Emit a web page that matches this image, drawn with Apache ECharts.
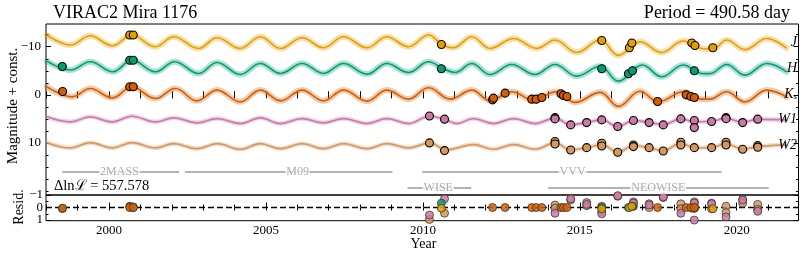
<!DOCTYPE html>
<html><head><meta charset="utf-8">
<script src="https://cdn.jsdelivr.net/npm/echarts@6/dist/echarts.min.js"></script>
<style>html,body{margin:0;padding:0;background:#fff}#c{width:806px;height:259px}</style>
</head><body><div id="c"></div>
<script>
// ---------------- data ----------------
const bandNames = ['J', 'H', 'Ks', 'W1', 'W2'];

const jModel = [[1998.02,-12.44],[1998.77,-10.35],[1999.40,-12.29],[2000.10,-10.21],[2000.73,-12.44],[2001.47,-10.0],[2002.06,-12.08],[2002.85,-9.65],[2003.44,-11.88],[2004.18,-9.65],[2004.82,-12.08],[2005.46,-9.65],[2006.15,-11.88],[2006.83,-9.79],[2007.47,-12.08],[2008.22,-9.79],[2008.85,-12.08],[2009.54,-10.0],[2010.18,-12.44],[2010.61,-10.48],[2010.97,-9.79],[2011.56,-12.08],[2012.14,-9.65],[2012.89,-11.73],[2013.63,-9.65],[2014.21,-11.4],[2014.90,-8.81],[2015.65,-11.4],[2016.23,-8.2],[2016.92,-11.04],[2017.61,-8.81],[2018.30,-11.19],[2018.88,-9.65],[2019.24,-9.52],[2019.68,-11.4],[2020.26,-9.4],[2020.96,-11.73],[2021.59,-9.7]];
const hModel = [[1998.02,-7.0],[1998.77,-5.15],[1999.40,-6.88],[2000.12,-4.79],[2000.73,-7.23],[2001.47,-4.79],[2002.09,-6.88],[2002.85,-4.44],[2003.44,-6.73],[2004.18,-4.23],[2004.82,-6.52],[2005.46,-4.44],[2006.15,-6.52],[2006.83,-4.44],[2007.47,-6.52],[2008.22,-4.31],[2008.85,-6.52],[2009.54,-4.65],[2010.18,-6.88],[2010.64,-5.48],[2011.03,-4.65],[2011.56,-6.52],[2012.14,-4.23],[2012.83,-6.31],[2013.57,-4.23],[2014.21,-6.31],[2014.90,-3.9],[2015.65,-5.94],[2016.23,-2.85],[2017.00,-6.19],[2017.61,-3.75],[2018.30,-6.19],[2018.88,-4.44],[2019.14,-4.4],[2019.68,-6.31],[2020.26,-4.1],[2020.96,-6.52],[2021.59,-4.79]];
const ksModel = [[1998.02,-1.67],[1998.82,0.42],[1999.40,-1.31],[2000.10,0.63],[2000.73,-1.67],[2001.47,0.77],[2002.11,-1.31],[2002.80,1.25],[2003.44,-0.98],[2004.18,1.46],[2004.82,-0.98],[2005.46,1.25],[2006.15,-0.98],[2006.83,1.25],[2007.47,-0.98],[2008.22,1.31],[2008.85,-0.98],[2009.54,0.9],[2010.18,-1.46],[2010.87,0.9],[2011.56,-0.98],[2012.14,1.2],[2012.83,-0.63],[2013.52,1.05],[2014.25,-0.63],[2014.85,1.56],[2015.65,-0.52],[2016.23,2.4],[2016.92,-0.73],[2017.50,1.46],[2018.30,-0.63],[2018.88,0.9],[2019.14,0.9],[2019.68,-0.63],[2020.26,1.46],[2020.96,-0.98],[2021.59,0.42]];
const w1Model = [[1998.02,4.58],[1998.77,5.63],[1999.40,4.58],[2000.10,5.63],[2000.73,4.44],[2001.47,5.63],[2002.06,4.79],[2002.80,5.83],[2003.44,4.94],[2004.18,5.98],[2004.82,4.79],[2005.46,5.98],[2006.15,4.94],[2006.83,5.83],[2007.47,4.94],[2008.22,5.98],[2008.85,4.94],[2009.54,5.98],[2010.21,4.44],[2010.69,5.06],[2011.08,5.98],[2011.61,4.94],[2012.25,5.98],[2012.89,4.94],[2013.58,5.98],[2014.21,4.85],[2014.71,6.2],[2015.22,5.75],[2015.70,5.2],[2016.21,6.6],[2016.71,5.35],[2017.21,5.75],[2017.66,6.2],[2018.22,5.0],[2018.65,5.6],[2019.20,5.5],[2019.66,4.9],[2020.19,5.7],[2020.67,5.1],[2021.59,5.2]];
const w2Model = [[1998.02,9.94],[1998.77,11.04],[1999.40,9.94],[2000.10,11.04],[2000.73,9.94],[2001.47,11.04],[2002.06,10.15],[2002.80,11.19],[2003.44,10.15],[2004.18,11.31],[2004.82,10.15],[2005.46,11.19],[2006.15,10.15],[2006.83,11.19],[2007.47,10.15],[2008.22,11.19],[2008.85,10.15],[2009.54,11.04],[2010.21,10.0],[2010.75,11.4],[2011.61,10.35],[2012.25,11.31],[2012.89,10.35],[2013.58,11.31],[2014.21,10.0],[2014.71,11.45],[2015.22,11.0],[2015.70,10.35],[2016.21,11.9],[2016.71,10.6],[2017.21,11.0],[2017.66,11.6],[2018.22,10.1],[2018.65,11.0],[2019.20,10.95],[2019.66,10.15],[2020.19,11.3],[2020.67,10.75],[2021.59,10.4]];

const jObs = [[2000.66,-12.44],[2000.77,-12.44],[2010.59,-10.48],[2015.70,-11.31],[2016.58,-9.79],[2016.66,-10.77],[2018.57,-10.77],[2018.67,-10.27],[2019.24,-9.79]];
const hObs = [[1998.51,-5.9],[2000.66,-7.19],[2000.77,-7.19],[2010.59,-5.42],[2015.70,-5.42],[2016.55,-4.38],[2016.68,-5.0],[2018.65,-5.0]];
const ksObs = [[1998.52,-0.69],[2000.66,-1.67],[2000.77,-1.67],[2012.22,1.04],[2012.25,0.69],[2012.62,-0.35],[2013.47,0.9],[2013.61,0.9],[2013.79,0.56],[2014.40,-0.21],[2014.48,0.15],[2014.59,0.35],[2017.48,1.4],[2018.39,0.0],[2018.54,0.35],[2018.65,0.56]];
const w1Obs = [[2010.21,4.4],[2010.69,5.06],[2014.21,4.75],[2014.21,5.0],[2014.71,6.25],[2015.22,5.77],[2015.70,5.21],[2016.21,6.6],[2016.71,5.35],[2017.21,5.77],[2017.66,6.25],[2018.22,5.0],[2018.65,5.35],[2018.65,6.81],[2019.20,5.56],[2019.66,4.75],[2019.66,4.95],[2020.19,5.77],[2020.67,5.06]];
const w2Obs = [[2010.21,10.0],[2010.69,11.6],[2014.21,9.72],[2014.21,10.21],[2014.71,11.46],[2015.22,10.98],[2015.70,10.07],[2015.70,10.63],[2016.21,11.94],[2016.71,10.42],[2016.71,10.77],[2017.21,10.98],[2017.66,11.67],[2018.22,9.85],[2018.22,10.42],[2018.65,10.98],[2019.20,10.98],[2019.66,9.85],[2019.66,10.42],[2020.19,11.31],[2020.67,10.56],[2020.67,10.9]];

const jResid = [[2000.66,-0.05],[2000.77,0.0],[2010.59,0.05],[2015.70,0.1],[2016.58,0.0],[2016.66,-0.1],[2018.57,0.05],[2018.67,0.0],[2019.24,0.1]];
const hResid = [[1998.51,0.08],[2000.66,-0.1],[2000.77,-0.05],[2010.59,-0.35],[2015.70,0.0],[2016.55,0.0],[2016.68,-0.1],[2018.65,0.05]];
const ksResid = [[1998.52,0.05],[2000.66,0.0],[2000.77,0.0],[2012.22,0.0],[2012.62,0.0],[2013.47,0.0],[2013.61,0.0],[2013.79,0.0],[2014.40,0.0],[2014.48,0.0],[2014.59,0.0],[2017.48,0.0],[2018.39,0.0],[2018.54,0.0],[2018.65,0.0]];
const w1Resid = [[2010.21,0.6],[2010.69,-0.7],[2014.21,0.45],[2014.71,-0.7],[2015.22,-0.25],[2015.70,0.5],[2016.21,-0.95],[2016.71,-0.35],[2017.21,-0.2],[2017.66,-0.85],[2018.22,0.45],[2018.65,-0.35],[2018.65,1.0],[2019.20,-0.3],[2019.66,0.75],[2020.19,-0.6],[2020.67,0.3]];
const w2Resid = [[2010.21,0.95],[2010.69,0.45],[2014.21,-0.2],[2014.21,0.05],[2014.71,-0.6],[2015.22,-0.4],[2015.22,-0.15],[2015.70,-0.1],[2015.70,0.3],[2016.21,-0.9],[2016.71,-0.45],[2016.71,-0.1],[2017.21,-0.3],[2017.21,0.0],[2017.66,-0.8],[2018.22,-0.3],[2018.22,0.1],[2018.65,-0.45],[2018.65,0.05],[2019.20,-0.35],[2019.20,0.1],[2019.66,-0.1],[2019.66,0.4],[2020.19,-0.65],[2020.19,-0.35],[2020.67,-0.25],[2020.67,0.15]];

const surveyNames = ['2MASS', 'M09', 'VVV', 'WISE', 'NEOWISE'];
const surveyStart = [1998.51, 2002.42, 2009.98, 2009.51, 2013.99];
const surveyEnd = [2002.23, 2009.03, 2019.52, 2011.54, 2021.02];
const surveyLabelAt = [2000.33, 2006.01, 2014.77, 2010.49, 2017.50];
const surveyRowMag = [16.04, 16.04, 16.04, 19.38, 19.38];

const xMajor = [2000, 2005, 2010, 2015, 2020];
const xMinor = [1998, 1999, 2001, 2002, 2003, 2004, 2006, 2007, 2008, 2009, 2011, 2012, 2013, 2014, 2016, 2017, 2018, 2019, 2021];
const yMajorTop = [-10, 0, 10];
const yMinorTop = [-12.5, -7.5, -5, -2.5, 2.5, 5, 7.5, 12.5, 15, 17.5, 20];
const yMajorRes = [-1, 0, 1];
const yMinorRes = [-0.5, 0.5];

const titleText = 'VIRAC2 Mira 1176';
const periodText = 'Period = 490.58 day';
const likelihoodText = 'Δlnℒ = 557.578';

// ---------------- style ----------------
const FONT = '"Liberation Serif", "DejaVu Serif", serif';
const colors = {J: '#E69F00', H: '#009E73', Ks: '#D55E00', W1: '#CC79A7', W2: '#D6985E'};
const models = {J: jModel, H: hModel, Ks: ksModel, W1: w1Model, W2: w2Model};
const obs = {J: jObs, H: hObs, Ks: ksObs, W1: w1Obs, W2: w2Obs};
const resid = {J: jResid, H: hResid, Ks: ksResid, W1: w1Resid, W2: w2Resid};
const bandWidth = {J: 6, H: 6, Ks: 6, W1: 4.5, W2: 4.5};

const X_MIN = 1997.99, X_MAX = 2021.97;
const minus = v => (v < 0 ? '\u2212' + Math.abs(v) : String(v));

function xAx(grid, pos, ticks, len, labels) {
  return {
    type: 'value', gridIndex: grid, position: pos, min: X_MIN, max: X_MAX,
    axisLine: {show: false}, splitLine: {show: false},
    axisTick: {show: true, inside: true, length: len, customValues: ticks, lineStyle: {color: '#000', width: 1}},
    axisLabel: labels ? {show: true, customValues: labels, formatter: v => String(v), fontFamily: FONT, fontSize: 13, color: '#000', margin: 3,
      showMinLabel: true, showMaxLabel: true, hideOverlap: false} : {show: false}
  };
}
function yAx(grid, pos, min, max, ticks, len, labels, margin) {
  return {
    type: 'value', gridIndex: grid, position: pos, min: min, max: max, inverse: true,
    axisLine: {show: false}, splitLine: {show: false},
    axisTick: ticks ? {show: true, inside: true, length: len, customValues: ticks, lineStyle: {color: '#000', width: 1}} : {show: false},
    axisLabel: labels ? {show: true, customValues: labels, formatter: minus, fontFamily: FONT, fontSize: 13, color: '#000', margin: margin,
      showMinLabel: true, showMaxLabel: true, hideOverlap: false} : {show: false}
  };
}

const TOP_MIN = -14.73, TOP_MAX = 20.83, RES_MIN = -1, RES_MAX = 1.05;

const xAxis = [
  xAx(0, 'top', xMajor.concat(xMinor), 3.5, null),      // 0 top panel (series)
  xAx(0, 'bottom', xMajor.concat(xMinor), 3.5, null),   // 1
  xAx(1, 'bottom', xMajor, 5, xMajor),                  // 2 residual (series)
  xAx(1, 'bottom', xMinor, 3, null),                    // 3
  xAx(1, 'top', xMajor.concat(xMinor), 3, null)         // 4
];
const yAxis = [
  yAx(0, 'left', TOP_MIN, TOP_MAX, yMajorTop, 5, yMajorTop, 5),   // 0 (series)
  yAx(0, 'left', TOP_MIN, TOP_MAX, yMinorTop, 2.5, null),
  yAx(0, 'right', TOP_MIN, TOP_MAX, yMajorTop, 5, null),
  yAx(0, 'right', TOP_MIN, TOP_MAX, yMinorTop, 2.5, null),
  yAx(1, 'left', RES_MIN, RES_MAX, yMajorRes, 5, null),           // 4 (series)
  yAx(1, 'left', RES_MIN, RES_MAX, yMinorRes, 2.5, null),
  yAx(1, 'right', RES_MIN, RES_MAX, yMajorRes, 5, null),
  yAx(1, 'right', RES_MIN, RES_MAX, yMinorRes, 2.5, null)
];
// one label-only axis per residual tick label (avoids label overlap hiding)
yMajorRes.forEach(v => yAxis.push(yAx(1, 'left', RES_MIN, RES_MAX, null, 0, [v], 3)));

const series = [];
bandNames.forEach(b => {
  const c = colors[b];
  series.push({type: 'line', xAxisIndex: 0, yAxisIndex: 0, data: models[b], smooth: 0.4, showSymbol: false, silent: true,
    lineStyle: {color: c, width: bandWidth[b], opacity: 0.33, cap: 'round'}, z: 1});
  series.push({type: 'line', xAxisIndex: 0, yAxisIndex: 0, data: models[b], smooth: 0.4, showSymbol: false, silent: true,
    lineStyle: {color: c, width: 1.6}, z: 2});
});
bandNames.forEach(b => {
  series.push({type: 'scatter', xAxisIndex: 0, yAxisIndex: 0, data: obs[b], symbolSize: 8,
    itemStyle: {color: colors[b], borderColor: '#000', borderWidth: 1.1, opacity: 1}, z: 5});
});
// residual zero line
series.push({type: 'line', xAxisIndex: 2, yAxisIndex: 4, data: [[X_MIN, 0], [X_MAX, 0]], showSymbol: false, silent: true,
  lineStyle: {color: '#000', width: 1.5, type: [6, 3]}, z: 2});
['W2', 'W1', 'H', 'J', 'Ks'].forEach(b => {
  series.push({type: 'scatter', xAxisIndex: 2, yAxisIndex: 4, data: resid[b], symbolSize: 8,
    itemStyle: {color: colors[b], borderColor: '#333', borderWidth: 0.9, opacity: 0.85}, z: 4});
});
// survey bars
surveyNames.forEach((n, i) => {
  series.push({type: 'line', xAxisIndex: 0, yAxisIndex: 0, data: [[surveyStart[i], surveyRowMag[i]], [surveyEnd[i], surveyRowMag[i]]],
    showSymbol: false, silent: true, lineStyle: {color: '#9a9a9a', width: 1.4}, z: 3});
  series.push({type: 'scatter', xAxisIndex: 0, yAxisIndex: 0, data: [[surveyLabelAt[i], surveyRowMag[i]]], symbolSize: 0, silent: true, z: 4,
    label: {show: true, position: 'inside', formatter: n, fontFamily: FONT, fontSize: 12, color: '#999', backgroundColor: '#fff', padding: [0, 1]}});
});

const rightLabels = [
  {t: '{i|J}', y: 42.5}, {t: '{i|H}', y: 68.5}, {t: '{i|K}{s|s}', y: 94}, {t: '{i|W}1', y: 119}, {t: '{i|W}2', y: 145}
];
const rich = {i: {fontFamily: FONT, fontStyle: 'italic', fontSize: 14, fill: '#000'}, s: {fontFamily: FONT, fontStyle: 'italic', fontSize: 9, fill: '#000', padding: [6, 0, 0, 0]}};

const graphic = [
  {type: 'text', x: 53, y: 13, style: {text: titleText, font: '18px ' + FONT, fill: '#000', align: 'left', verticalAlign: 'middle'}},
  {type: 'text', x: 790, y: 13, style: {text: periodText, font: '18px ' + FONT, fill: '#000', align: 'right', verticalAlign: 'middle'}},
  {type: 'text', x: 54, y: 186.5, style: {text: likelihoodText, font: '14.5px ' + FONT, fill: '#000', align: 'left', verticalAlign: 'middle', backgroundColor: '#fff'}},
  {type: 'text', x: 13, y: 106, rotation: Math.PI / 2, style: {text: 'Magnitude + const.', font: '15px ' + FONT, fill: '#000', align: 'center', verticalAlign: 'middle'}},
  {type: 'text', x: 19, y: 207, rotation: Math.PI / 2, style: {text: 'Resid.', font: '14px ' + FONT, fill: '#000', align: 'center', verticalAlign: 'middle'}},
  {type: 'text', x: 423.5, y: 244, style: {text: 'Year', font: '14px ' + FONT, fill: '#000', align: 'center', verticalAlign: 'middle'}}
].concat(rightLabels.map(r => ({type: 'text', x: 797, y: r.y, z: 10,
  style: {text: r.t, rich: rich, font: 'italic 14px ' + FONT, fill: '#000', align: 'right', verticalAlign: 'middle'}})));

const chart = echarts.init(document.getElementById('c'), null, {renderer: 'canvas'});
chart.setOption({
  animation: false,
  backgroundColor: '#fff',
  grid: [
    {left: 46, right: 7.5, top: 24, height: 171, show: true, borderColor: '#000', borderWidth: 1, backgroundColor: 'transparent'},
    {left: 46, right: 7.5, top: 195, height: 25.7, show: true, borderColor: '#000', borderWidth: 1, backgroundColor: 'transparent'}
  ],
  xAxis: xAxis,
  yAxis: yAxis,
  series: series,
  graphic: graphic
});
</script></body></html>
